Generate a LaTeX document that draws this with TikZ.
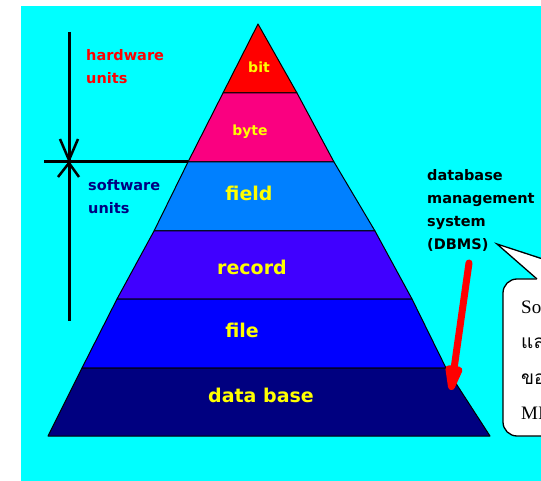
\documentclass[tikz,border=0pt]{standalone}
\usepackage{fontspec}
\setmainfont{Liberation Serif}
\newfontfamily\lblfont{DejaVu Sans}
\newfontfamily\thaifont[Script=Thai]{Loma}
\usetikzlibrary{arrows.meta}
\definecolor{bgcyan}{RGB}{0,255,255}
\definecolor{cbit}{RGB}{255,0,0}
\definecolor{cbyte}{RGB}{250,0,128}
\definecolor{cfield}{RGB}{0,128,255}
\definecolor{crecord}{RGB}{64,0,255}
\definecolor{cfile}{RGB}{0,0,255}
\definecolor{cdb}{RGB}{0,0,128}
\definecolor{cyel}{RGB}{255,255,0}
\definecolor{navytxt}{RGB}{0,0,128}
\begin{document}
\begin{tikzpicture}[x=1pt,y=-1pt,
  layer/.style={draw=black, line width=1pt, line join=round},
  pyrtxt/.style={font=\lblfont\bfseries\fontsize{19}{19}\selectfont, text=cyel, inner sep=0pt},
  smalltxt/.style={font=\lblfont\bfseries\fontsize{14}{14}\selectfont, text=cyel, inner sep=0pt},
  sidetxt/.style={font=\lblfont\bfseries\fontsize{14.5}{23}\selectfont, align=left, inner sep=0pt, anchor=west},
  axisline/.style={line width=3pt},
  tickmark/.style={line width=2.5pt},
  bubtxt/.style={font=\fontsize{19}{19}\selectfont, anchor=base west, inner sep=0pt}]
\useasboundingbox (0,0) rectangle (541,481);
\clip (0,0) rectangle (541,481);
\fill[white] (0,0) rectangle (541,481);
\fill[bgcyan] (21,6) rectangle (541,481);
% pyramid layers
\filldraw[layer, fill=cbit] (258,24) -- (297,93) -- (223,93) -- cycle;
\filldraw[layer, fill=cbyte] (223,93) -- (297,93) -- (334,162) -- (188,162) -- cycle;
\filldraw[layer, fill=cfield] (188,162) -- (334,162) -- (375,231) -- (154,231) -- cycle;
\filldraw[layer, fill=crecord] (154,231) -- (375,231) -- (412,299) -- (117,299) -- cycle;
\filldraw[layer, fill=cfile] (117,299) -- (412,299) -- (446,368) -- (82,368) -- cycle;
\filldraw[layer, fill=cdb] (82,368) -- (446,368) -- (490,436) -- (48,436) -- cycle;
% labels
\node[smalltxt] (tbit) at (259,67) {bit};
\node[smalltxt] (tbyte) at (250,132) {byte};
\node[pyrtxt] (tfield) at (249,193) {field};
\node[pyrtxt] (trecord) at (252,267) {record};
\node[pyrtxt] (tfile) at (242,330) {file};
\node[pyrtxt] (tdb) at (261,395) {data base};
% axis
\coordinate (axTop) at (69,32);
\coordinate (axBot) at (69,321);
\coordinate (axL) at (44,161.5);
\coordinate (axR) at (188,161.5);
\draw[axisline] (axTop) -- (axBot);
\draw[axisline] (axL) -- (axR);
\draw[tickmark] (60,139) -- (69,160) -- (78,139);
\draw[tickmark] (58,177) -- (69,163) -- (79,177);
% side texts
\node[sidetxt, text=red] (hw) at (86,66.5) {hardware\\units};
\node[sidetxt, text=navytxt] (sw) at (88,197) {software\\units};
\node[sidetxt, text=black] (dbms) at (427,210) {database\\management\\system\\(DBMS)};
% speech bubble
\draw[line width=1.3pt, fill=white, rounded corners=14pt] (503,279) rectangle (660,436);
\fill[white] (539,281.5) -- (497,244) -- (606,281.5) -- cycle;
\draw[line width=1.3pt, line join=miter] (537,279) -- (497,244) -- (604,279);
\node[bubtxt] (b1) at (521,313) {Software};
\node[bubtxt] (b2) at (521,348) {\thaifont และ};
\node[bubtxt] (b3) at (521,384) {\thaifont ของ};
\node[bubtxt] (b4) at (521,419) {MIS};
% red arrow
\coordinate (arS) at (469,263);
\coordinate (arT) at (451,390);
\draw[cbit, line width=7pt, line cap=round, -{Triangle[length=36pt,width=17pt,round]}] (arS) -- (arT);
\end{tikzpicture}
\end{document}
